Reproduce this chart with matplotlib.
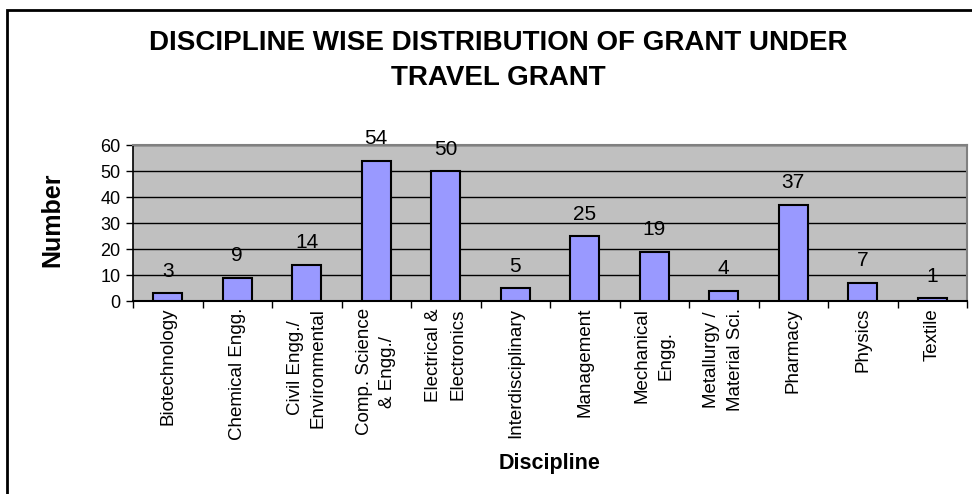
import numpy as np
import matplotlib
matplotlib.use("Agg")
import matplotlib.pyplot as plt
from matplotlib.patches import Rectangle

plt.rcParams['font.family'] = ['Liberation Sans', 'DejaVu Sans']

# data
disciplines = ['Biotechnology', 'Chemical Engg.', 'Civil Engg./\nEnvironmental',
               'Comp. Science\n& Engg./', 'Electrical &\nElectronics', 'Interdisciplinary',
               'Management', 'Mechanical\nEngg.', 'Metallurgy /\nMaterial Sci.',
               'Pharmacy', 'Physics', 'Textile']
counts = [3, 9, 14, 54, 50, 5, 25, 19, 4, 37, 7, 1]

fig = plt.figure(figsize=(9.72, 4.94), dpi=100)
fig.patch.set_facecolor('white')

# outer chart frame (only left/top edges fall inside the image)
fig.patches.append(Rectangle((7 / 972, -0.2), 1.2, 1.2 - 10 / 494,
                             transform=fig.transFigure, fill=False,
                             edgecolor='black', linewidth=2))

ax = fig.add_axes([133 / 972, 1 - 301 / 494, (967 - 133) / 972, (301 - 145) / 494])
ax.set_facecolor('#C0C0C0')

x = np.arange(len(counts))
bars = ax.bar(x, counts, width=0.42, color='#9999FF', edgecolor='black',
              linewidth=1.5, zorder=3)

for b, v in zip(bars, counts):
    ax.annotate(str(v), (b.get_x() + b.get_width() / 2, b.get_height()),
                xytext=(0, 9), textcoords='offset points',
                ha='center', va='bottom', fontsize=15, zorder=4)

ax.set_xlim(-0.5, len(counts) - 0.5)
ax.set_ylim(0, 60)
ax.set_yticks(range(0, 61, 10))
ax.yaxis.grid(True, color='black', linewidth=1)
ax.set_axisbelow(True)

ax.set_xticks(x)
ax.set_xticklabels(disciplines, rotation=90, fontsize=13.5, ha='center', va='top',
                   multialignment='center', linespacing=1.5)
ax.tick_params(axis='x', which='major', length=0, pad=5)
ax.set_xticks(np.arange(-0.5, len(counts), 1), minor=True)
ax.tick_params(axis='x', which='minor', length=5, width=1, direction='out')
ax.tick_params(axis='y', length=5, width=1, labelsize=13, pad=4, direction='out')

for side in ['top', 'right']:
    ax.spines[side].set_color('#808080')
    ax.spines[side].set_linewidth(1.5)
ax.spines['left'].set_linewidth(1.2)
ax.spines['bottom'].set_linewidth(1.5)

fig.text(498 / 972, 1 - 43 / 494, 'DISCIPLINE WISE DISTRIBUTION OF GRANT UNDER',
         ha='center', va='center', fontsize=20, fontweight='bold')
fig.text(498 / 972, 1 - 78 / 494, 'TRAVEL GRANT',
         ha='center', va='center', fontsize=20, fontweight='bold')

fig.text(52 / 972, 1 - 220 / 494, 'Number', rotation=90, ha='center', va='center',
         fontsize=18, fontweight='bold')
fig.text(550 / 972, 1 - 463 / 494, 'Discipline', ha='center', va='center',
         fontsize=15.5, fontweight='bold')

fig.savefig('out.png', dpi=100)
